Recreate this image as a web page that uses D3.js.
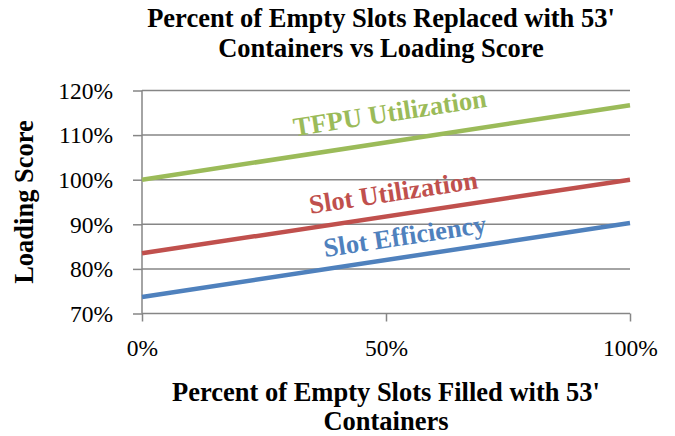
<!DOCTYPE html>
<html>
<head>
<meta charset="utf-8">
<script src="https://cdn.jsdelivr.net/npm/d3@7"></script>
<style>
  body { margin: 0; background: #fff; }
  text { font-family: "Liberation Serif", "Times New Roman", serif; }
</style>
</head>
<body>
<svg id="chart" width="675" height="436"></svg>
<script>
// data
var xValues = [0, 1];
var tfpuUtil = [1.00, 1.167];
var slotUtil = [0.835, 1.00];
var slotEff = [0.737, 0.903];
var seriesNames = ["TFPU Utilization", "Slot Utilization", "Slot Efficiency"];
var seriesColors = ["#9bbb59", "#c0504d", "#4f81bd"];
var yTicks = [0.7, 0.8, 0.9, 1.0, 1.1, 1.2];
var xTicks = [0, 0.5, 1];

function drawChart(){
    var svg = d3.select("#chart");

    // plot box
    var plotL = 142, plotR = 630, plotT = 90.5, plotB = 313.5;

    var x = d3.scaleLinear().domain([0, 1]).range([plotL, plotR]);
    var y = d3.scaleLinear().domain([0.7, 1.2]).range([plotB, plotT]);

    var grey = "#868686";

    // horizontal gridlines
    svg.append("g")
        .selectAll("line")
        .data(yTicks.slice(1))
        .enter()
        .append("line")
        .attr("x1", plotL)
        .attr("x2", plotR)
        .attr("y1", function(d){ return y(d); })
        .attr("y2", function(d){ return y(d); })
        .style("stroke", grey)
        .style("stroke-width", 1.5);

    // y axis
    var yAxis = svg.append("g")
        .attr("transform", "translate(" + plotL + ",0)")
        .call(d3.axisLeft(y).tickValues(yTicks).tickSize(9).tickPadding(20)
            .tickFormat(d3.format(".0%")));
    yAxis.select(".domain").attr("d", "M0," + plotT + "V" + plotB);

    // x axis
    var xAxis = svg.append("g")
        .attr("transform", "translate(0," + plotB + ")")
        .call(d3.axisBottom(x).tickValues(xTicks).tickSize(8).tickPadding(18)
            .tickFormat(d3.format(".0%")));
    xAxis.select(".domain").attr("d", "M" + plotL + ",0H" + plotR);

    svg.selectAll(".domain, .tick line")
        .style("stroke", grey)
        .style("stroke-width", 1.5);
    svg.selectAll(".tick text")
        .style("font-family", "Liberation Serif")
        .style("font-size", "23.5px")
        .style("fill", "#000");
    yAxis.selectAll(".tick text").attr("dy", "0.33em");

    // lines
    var allSeries = [tfpuUtil, slotUtil, slotEff];
    var line = d3.line()
        .x(function(d, i){ return x(xValues[i]); })
        .y(function(d){ return y(d); });

    svg.append("g")
        .selectAll("path")
        .data(allSeries)
        .enter()
        .append("path")
        .attr("d", line)
        .style("fill", "none")
        .style("stroke", function(d, i){ return seriesColors[i]; })
        .style("stroke-width", 4.5);

    // labels sitting on the lines
    var labelAt = [0.517, 0.522, 0.545];
    var labelGap = [20, 14, 12];
    allSeries.forEach(function(s, i){
        var f = labelAt[i];
        var v = s[0] + (s[1] - s[0]) * f;
        var px = x(f), py = y(v);
        var ang = Math.atan2(y(s[1]) - y(s[0]), x(1) - x(0)) * 180 / Math.PI;
        svg.append("text")
            .attr("transform", "translate(" + px + "," + py + ") rotate(" + ang + ")")
            .attr("y", -labelGap[i])
            .attr("text-anchor", "middle")
            .style("font-size", "26.5px")
            .style("font-weight", "bold")
            .style("fill", seriesColors[i])
            .text(seriesNames[i]);
    });

    // title
    var title = svg.append("text")
        .attr("text-anchor", "middle")
        .style("font-size", "26.5px")
        .style("font-weight", "bold");
    title.append("tspan").attr("x", 381).attr("y", 27).text("Percent of Empty Slots Replaced with 53'");
    title.append("tspan").attr("x", 381).attr("y", 57).text("Containers vs Loading Score");

    // x axis title
    var xt = svg.append("text")
        .attr("text-anchor", "middle")
        .style("font-size", "26.5px")
        .style("font-weight", "bold");
    xt.append("tspan").attr("x", 386).attr("y", 401).text("Percent of Empty Slots Filled with 53'");
    xt.append("tspan").attr("x", 386).attr("y", 430).text("Containers");

    // y axis title
    svg.append("text")
        .attr("transform", "translate(33," + ((plotT + plotB) / 2) + ") rotate(-90)")
        .attr("text-anchor", "middle")
        .style("font-size", "26.5px")
        .style("font-weight", "bold")
        .text("Loading Score");
}

drawChart();
</script>
</body>
</html>
